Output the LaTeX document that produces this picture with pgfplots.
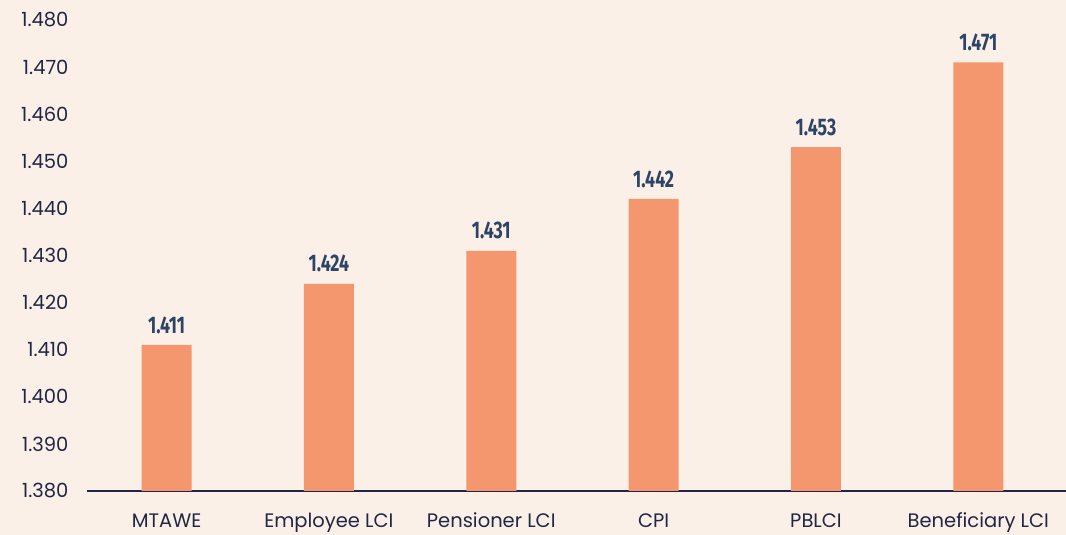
\documentclass[border=0pt]{standalone}
\usepackage{fontspec}
\setmainfont{Poppins}
\newfontfamily\valfont{Fira Sans}
\usepackage{graphicx}
\usepackage{pgfplots}
\pgfplotsset{compat=1.18}
\definecolor{bg}{HTML}{FBF0E8}
\definecolor{bar}{HTML}{F4976F}
\definecolor{txt}{HTML}{222644}
\definecolor{val}{HTML}{2D4466}
\begin{document}
\begin{tikzpicture}
\path[use as bounding box, fill=bg] (-87pt,-44pt) rectangle (979pt,491pt);
\begin{axis}[
  scale only axis,
  width=979pt, height=471pt,
  xmin=-0.49, xmax=5.54,
  ymin=1.380, ymax=1.480,
  ytick={1.38,1.39,...,1.481},
  xtick={0,1,2,3,4,5},
  xticklabels={MTAWE, Employee LCI, Pensioner LCI, CPI, PBLCI, Beneficiary LCI},
  axis lines=left,
  x axis line style={-, line width=1.3pt, color=txt},
  y axis line style={draw=none},
  tick style={draw=none},
  major tick length=0pt,
  /pgf/number format/assume math mode=true,
  yticklabel={\pgfmathprintnumber[fixed,fixed zerofill,precision=3]{\tick}},
  yticklabel style={font=\fontsize{19.5}{22}\selectfont, text=txt, anchor=east, xshift=-15pt},
  xticklabel style={font=\fontsize{19.5}{22}\selectfont, text=txt, anchor=base, yshift=-36.5pt},
  ybar, bar width=50pt,
  bar shift=0pt,
  clip=false,
  nodes near coords={\scalebox{0.74}[1]{\pgfmathprintnumber[fixed,fixed zerofill,precision=3]{\pgfplotspointmeta}}},
  nodes near coords style={font=\valfont\bfseries\fontsize{24}{27}\selectfont, text=val, anchor=south, yshift=8pt},
]
\addplot[fill=bar, draw=none] coordinates {(0,1.411) (1,1.424) (2,1.431) (3,1.442) (4,1.453) (5,1.471)};
\end{axis}
\end{tikzpicture}
\end{document}
